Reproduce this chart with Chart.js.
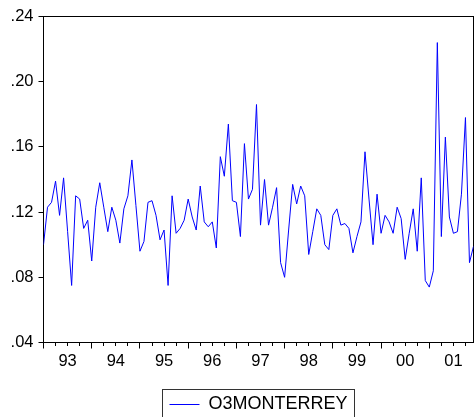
<!DOCTYPE html>
<html>
<head>
<meta charset="utf-8">
<script src="https://cdn.jsdelivr.net/npm/chart.js@4.4.1/dist/chart.umd.min.js"></script>
<style>
  html, body { margin: 0; padding: 0; background: #ffffff; overflow: hidden; }
  #wrap { position: relative; width: 476px; height: 424px; }
</style>
</head>
<body>
<div id="wrap"><canvas id="c"></canvas></div>
<script>
// ---- data (monthly, 1993M01 .. 2001M12) ----
const seriesName = 'O3MONTERREY';
const startYear = 1993;
const yearLabels = ['93', '94', '95', '96', '97', '98', '99', '00', '01'];
const o3monterrey = [
  0.100, 0.123, 0.126, 0.139, 0.118, 0.141, 0.108, 0.075, 0.130, 0.128, 0.110, 0.115,
  0.090, 0.123, 0.138, 0.123, 0.108, 0.123, 0.115, 0.101, 0.122, 0.130, 0.152, 0.124,
  0.096, 0.102, 0.126, 0.127, 0.118, 0.103, 0.109, 0.075, 0.130, 0.107, 0.110, 0.115,
  0.128, 0.117, 0.109, 0.136, 0.114, 0.111, 0.114, 0.098, 0.154, 0.142, 0.174, 0.127,
  0.126, 0.105, 0.162, 0.128, 0.134, 0.186, 0.112, 0.140, 0.112, 0.123, 0.135, 0.089,
  0.080, 0.109, 0.137, 0.125, 0.136, 0.130, 0.094, 0.108, 0.122, 0.118, 0.100, 0.097,
  0.118, 0.122, 0.112, 0.113, 0.110, 0.095, 0.105, 0.114, 0.157, 0.128, 0.100, 0.131,
  0.107, 0.118, 0.114, 0.107, 0.123, 0.116, 0.091, 0.107, 0.122, 0.096, 0.141, 0.078,
  0.074, 0.084, 0.224, 0.105, 0.166, 0.117, 0.107, 0.108, 0.131, 0.178, 0.089, 0.099
];
const yTickValues = [0.04, 0.08, 0.12, 0.16, 0.20, 0.24];

// ---- build chart ----
Chart.defaults.font.family = "'Liberation Sans', Arial, sans-serif";
Chart.defaults.color = '#000000';

const points = o3monterrey.map((v, i) => ({ x: i, y: v }));
const lastIndex = o3monterrey.length - 1;

const legendBox = {
  id: 'legendBox',
  afterDraw(chart) {
    const lg = chart.legend;
    if (!lg || !lg.legendHitBoxes || !lg.legendHitBoxes.length) return;
    const hb = lg.legendHitBoxes[0];
    const ctx = chart.ctx;
    const cy = hb.top + hb.height / 2;
    const left = Math.round(hb.left - 7) + 0.5;
    const right = Math.round(hb.left + hb.width + 6) + 0.5;
    const top = Math.round(cy - 16) + 0.5;
    ctx.save();
    ctx.strokeStyle = '#333333';
    ctx.lineWidth = 1;
    ctx.strokeRect(left, top, right - left, chart.height + 10 - top);
    ctx.restore();
  }
};

new Chart(document.getElementById('c'), {
  type: 'line',
  data: {
    datasets: [{
      label: seriesName,
      data: points,
      borderColor: '#0000FF',
      backgroundColor: '#0000FF',
      borderWidth: 1,
      pointRadius: 0,
      pointHoverRadius: 0,
      tension: 0,
      fill: false
    }]
  },
  options: {
    responsive: true,
    maintainAspectRatio: false,
    animation: false,
    events: [],
    layout: { padding: { top: 16.5, right: 2.5, left: 0, bottom: 0.5 } },
    plugins: {
      tooltip: { enabled: false },
      legend: {
        display: true,
        position: 'bottom',
        fullSize: false,
        labels: {
          usePointStyle: true,
          pointStyle: 'line',
          pointStyleWidth: 30,
          padding: 13,
          color: '#000000',
          font: { size: 18 }
        }
      }
    },
    scales: {
      x: {
        type: 'linear',
        position: 'bottom',
        min: 0,
        max: lastIndex,
        afterBuildTicks(scale) {
          const t = [];
          for (let v = 0; v <= lastIndex; v += 3) t.push({ value: v });
          scale.ticks = t;
        },
        afterFit(scale) { scale.height = 40; },
        ticks: {
          autoSkip: false,
          maxRotation: 0,
          minRotation: 0,
          padding: 3,
          color: '#000000',
          font: { size: 16.5 },
          callback: (v) => (v % 12 === 6 ? yearLabels[(v - 6) / 12] : '')
        },
        grid: {
          drawOnChartArea: false,
          drawTicks: true,
          tickLength: 6,
          tickColor: '#000000',
          tickWidth: 1,
          tickBorderDash: (ctx) => (ctx.tick && ctx.tick.value % 12 === 0 ? [] : [3, 20])
        },
        border: { display: true, color: '#000000', width: 1 }
      },
      x2: {
        type: 'linear',
        position: 'top',
        min: 0,
        max: 1,
        ticks: { display: false },
        grid: { drawOnChartArea: false, drawTicks: false },
        border: { display: true, color: '#000000', width: 1 }
      },
      y: {
        type: 'linear',
        position: 'left',
        min: 0.04,
        max: 0.24,
        afterBuildTicks(scale) { scale.ticks = yTickValues.map(v => ({ value: v })); },
        afterFit(scale) { scale.width = 43.5; },
        ticks: {
          padding: 5,
          color: '#000000',
          font: { size: 16.5 },
          callback: (v) => v.toFixed(2).replace(/^0/, '')
        },
        grid: {
          drawOnChartArea: false,
          drawTicks: true,
          tickLength: 5,
          tickColor: '#000000',
          tickWidth: 1
        },
        border: { display: true, color: '#000000', width: 1 }
      },
      y2: {
        type: 'linear',
        position: 'right',
        min: 0,
        max: 1,
        ticks: { display: false },
        grid: { drawOnChartArea: false, drawTicks: false },
        border: { display: true, color: '#000000', width: 1 }
      }
    }
  },
  plugins: [legendBox]
});
</script>
</body>
</html>
